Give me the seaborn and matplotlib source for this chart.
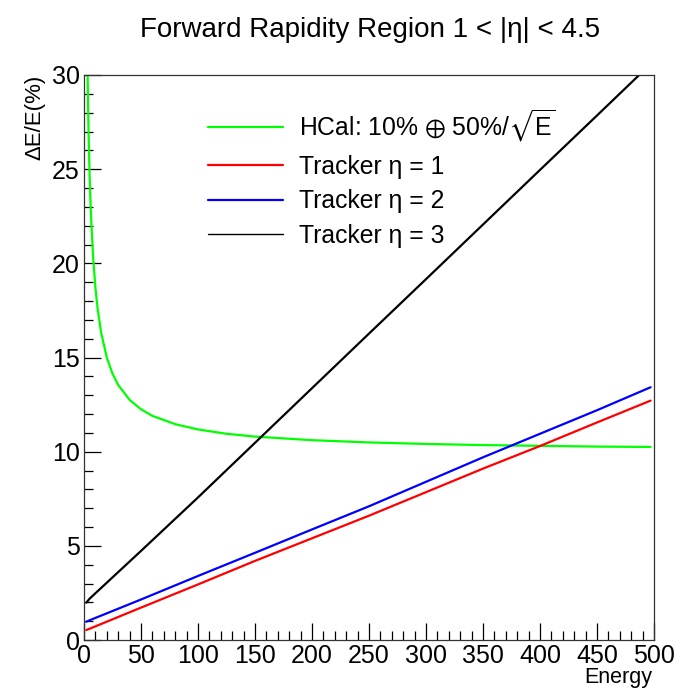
import matplotlib
matplotlib.use("Agg")
import matplotlib.pyplot as plt
from matplotlib.ticker import MultipleLocator
import pandas as pd
import seaborn as sns

# Energy resolution curves (dE/E in %) versus energy
hcal_energy = [2, 3, 4, 5, 6, 8, 10, 12, 15, 20, 25, 30, 40, 50, 60, 80, 100,
               125, 150, 200, 250, 300, 350, 400, 450, 497]
hcal_res = [36.7, 30.55, 26.93, 24.49, 22.73, 20.31, 18.71, 17.56, 16.33, 15.0,
            14.14, 13.54, 12.75, 12.25, 11.90, 11.46, 11.18, 10.95, 10.80,
            10.61, 10.49, 10.41, 10.35, 10.31, 10.27, 10.25]

trk_energy = [2, 5, 50, 100, 150, 200, 250, 300, 350, 400, 450, 497]
trk_eta1 = [0.53, 0.60, 1.72, 2.95, 4.20, 5.40, 6.60, 7.85, 9.10, 10.30, 11.55, 12.71]
trk_eta2 = [0.97, 1.05, 2.15, 3.40, 4.63, 5.87, 7.10, 8.40, 9.70, 10.95, 12.20, 13.42]
trk_eta3 = [1.98, 2.20, 4.73, 7.57, 10.47, 13.37, 16.27, 19.16, 22.06, 24.96, 27.85, 30.58]

labels = ["HCal: 10% $\\oplus$ 50%/$\\sqrt{\\mathrm{E}}$",
          "Tracker \u03b7 = 1", "Tracker \u03b7 = 2", "Tracker \u03b7 = 3"]
colors = ["#00ff00", "#ff0000", "#0000ff", "#000000"]

x_ticks = [0, 50, 100, 150, 200, 250, 300, 350, 400, 450, 500]
y_ticks = [0, 5, 10, 15, 20, 25, 30]

sns.set_theme(style="white")
plt.rcParams["font.family"] = ["Liberation Sans", "DejaVu Sans"]
plt.rcParams["mathtext.fontset"] = "custom"
plt.rcParams["mathtext.rm"] = "Liberation Sans"
plt.rcParams["mathtext.it"] = "Liberation Sans:italic"
plt.rcParams["mathtext.fallback"] = "stixsans"
plt.rcParams["text.color"] = "black"

fig = plt.figure(figsize=(6.76, 6.90), dpi=100)
ax = fig.add_axes([84 / 676, 50 / 690, 570 / 676, 565 / 690])

hcal = pd.DataFrame({"Energy": hcal_energy, "res": hcal_res})
trk = pd.DataFrame({"Energy": trk_energy, "eta1": trk_eta1,
                    "eta2": trk_eta2, "eta3": trk_eta3})

sns.lineplot(data=hcal, x="Energy", y="res", ax=ax, color=colors[0],
             lw=1.6, label=labels[0])
for col, lab, c in zip(["eta1", "eta2", "eta3"], labels[1:], colors[1:]):
    sns.lineplot(data=trk, x="Energy", y=col, ax=ax, color=c, lw=1.6, label=lab)

ax.set_xlim(x_ticks[0], x_ticks[-1])
ax.set_ylim(y_ticks[0], y_ticks[-1])
ax.set_xticks(x_ticks)
ax.set_yticks(y_ticks)
ax.xaxis.set_minor_locator(MultipleLocator(10))
ax.yaxis.set_minor_locator(MultipleLocator(1))
ax.tick_params(axis="both", which="both", direction="in", bottom=True, left=True,
               top=False, right=False, colors="black", labelsize=18)
ax.tick_params(axis="both", which="major", length=12.5, width=0.9)
ax.tick_params(axis="both", which="minor", length=6.5, width=0.9)
ax.tick_params(axis="x", which="major", pad=3)
ax.tick_params(axis="y", which="major", pad=3)
for s in ax.spines.values():
    s.set_color("#333333")
    s.set_linewidth(0.9)

ax.set_xlabel("")
ax.set_ylabel("")
fig.text(652 / 676, 1 - 678 / 690, "Energy", ha="right", va="center", fontsize=15.5)
fig.text(35 / 676, 1 - 75 / 690, "\u0394E/E(%)", ha="center", va="top",
         rotation=90, fontsize=16)
fig.text(370 / 676, 1 - 30 / 690, "Forward Rapidity Region 1 < |\u03b7| < 4.5",
         ha="center", va="center", fontsize=20)

leg = ax.legend(loc="upper left", bbox_to_anchor=(208 / 676, 1 - 108 / 690),
                bbox_transform=fig.transFigure, frameon=False, fontsize=17.8,
                borderpad=0, borderaxespad=0, handlelength=3.05,
                handletextpad=0.62, labelspacing=0.42)
for h in leg.get_lines():
    h.set_linewidth(1.6)
leg.get_lines()[3].set_linewidth(1.0)

fig.savefig("out.png", dpi=100)
